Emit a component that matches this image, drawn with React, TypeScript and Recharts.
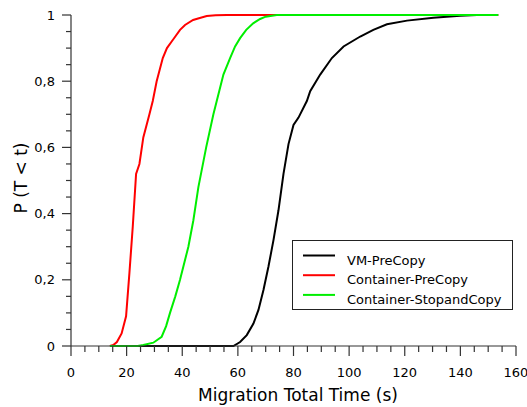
import React from "react";
import { LineChart, Line, XAxis, YAxis, Legend } from "recharts";

// tick values / labels
const xTicks = [0, 5, 10, 15, 20, 25, 30, 35, 40, 45, 50, 55, 60, 65, 70, 75, 80, 85, 90, 95, 100, 105, 110, 115, 120, 125, 130, 135, 140, 145, 150, 155, 160];
const xMajorTicks = [0, 20, 40, 60, 80, 100, 120, 140, 160];
const xTickLabels = ["0", "20", "40", "60", "80", "100", "120", "140", "160"];
const yTicks = [0, 0.05, 0.1, 0.15, 0.2, 0.25, 0.3, 0.35, 0.4, 0.45, 0.5, 0.55, 0.6, 0.65, 0.7, 0.75, 0.8, 0.85, 0.9, 0.95, 1];
const yMajorTicks = [0, 0.2, 0.4, 0.6, 0.8, 1];
const yTickLabels = ["0", "0,2", "0,4", "0,6", "0,8", "1"];

const seriesNames = ["VM-PreCopy", "Container-PreCopy", "Container-StopandCopy"];

// VM-PreCopy
const vmTimes = [14, 58.4, 60.8, 63.2, 65.6, 67.4, 69.2, 71, 72.8, 74.6, 76.4, 78.2, 80, 81.8, 84.8, 86, 89.6, 93.8, 98, 104, 108.7, 113.6, 120.8, 130.3, 139.9, 146, 153.6];
const vmProbs = [0, 0, 0.012, 0.033, 0.068, 0.109, 0.169, 0.24, 0.32, 0.41, 0.52, 0.61, 0.668, 0.69, 0.74, 0.77, 0.82, 0.87, 0.905, 0.935, 0.955, 0.972, 0.983, 0.992, 0.998, 1, 1];

// Container-PreCopy
const cpTimes = [14, 15.2, 16.5, 18.2, 19.8, 21, 22.2, 23.4, 24.6, 26, 28.2, 29.4, 30.8, 33, 34.5, 36.2, 37.5, 39.2, 41, 43.9, 46, 48.8, 52, 56, 153.6];
const cpProbs = [0, 0.003, 0.012, 0.038, 0.09, 0.22, 0.36, 0.52, 0.55, 0.63, 0.7, 0.74, 0.8, 0.87, 0.9, 0.92, 0.935, 0.955, 0.97, 0.985, 0.99, 0.997, 0.999, 1, 1];

// Container-StopandCopy
const csTimes = [14, 24, 26, 29.6, 32.6, 34.2, 35.6, 37.5, 39.2, 42.2, 44, 45.8, 48.6, 51.2, 52.4, 54.8, 57.2, 59, 60.8, 63, 65.5, 68, 70, 74, 153.6];
const csProbs = [0, 0, 0.003, 0.01, 0.028, 0.06, 0.1, 0.15, 0.2, 0.3, 0.38, 0.48, 0.6, 0.7, 0.74, 0.82, 0.87, 0.905, 0.93, 0.955, 0.975, 0.988, 0.995, 1, 1];

const toRows = (ts: number[], ps: number[]) => ts.map((t, i) => ({ t, p: ps[i] }));

const FONT = "'DejaVu Sans', sans-serif";
const AXIS = "#333";

function XTick(props: any) {
  const { x, y, payload } = props;
  const idx = xMajorTicks.indexOf(payload.value);
  const major = idx >= 0;
  return (
    <g>
      <line x1={x} x2={x} y1={y} y2={y + (major ? 10 : 6)} stroke={AXIS} strokeWidth={1.2} />
      {major && (
        <text x={x} y={y + 31} textAnchor="middle" fontSize={13} fontFamily={FONT} fill="#000">
          {xTickLabels[idx]}
        </text>
      )}
    </g>
  );
}

function YTick(props: any) {
  const { x, y, payload } = props;
  const idx = yMajorTicks.findIndex((v) => Math.abs(v - payload.value) < 1e-6);
  const major = idx >= 0;
  return (
    <g>
      <line x1={x} x2={x - (major ? 9 : 5)} y1={y} y2={y} stroke={AXIS} strokeWidth={1.2} />
      {major && (
        <text x={x - 16} y={y + 4.5} textAnchor="end" fontSize={13} fontFamily={FONT} fill="#000">
          {yTickLabels[idx]}
        </text>
      )}
    </g>
  );
}

function LegendBox(props: any) {
  const items = [...(props.payload || [])].sort(
    (a: any, b: any) => seriesNames.indexOf(a.value) - seriesNames.indexOf(b.value)
  );
  return (
    <svg width={221} height={71} style={{ display: "block" }}>
      <rect x={0.5} y={0.5} width={220} height={69} fill="#fff" stroke="#222" strokeWidth={1} />
      {items.map((it: any, i: number) => (
        <g key={i}>
          <line x1={11} x2={43} y1={15.5 + i * 19.7} y2={15.5 + i * 19.7} stroke={it.color} strokeWidth={2} />
          <text x={55} y={24.5 + i * 19.5} fontSize={13} fontFamily={FONT} fill="#000">
            {it.value}
          </text>
        </g>
      ))}
    </svg>
  );
}

export default function App() {
  return (
    <div style={{ position: "absolute", left: 0, top: 0, width: 527, height: 407 }}>
      <LineChart width={527} height={407} margin={{ top: 15, right: 11, bottom: 0, left: 0 }}>
        <XAxis
          type="number"
          dataKey="t"
          domain={[0, 160]}
          ticks={xTicks}
          interval={0}
          allowDataOverflow
          height={61}
          tickSize={0}
          tickMargin={0}
          tickLine={false}
          stroke={AXIS}
          strokeWidth={1.2}
          tick={<XTick />}
        />
        <YAxis
          type="number"
          domain={[0, 1]}
          ticks={yTicks}
          interval={0}
          width={71}
          tickSize={0}
          tickMargin={0}
          tickLine={false}
          stroke={AXIS}
          strokeWidth={1.2}
          tick={<YTick />}
        />
        <Legend
          layout="horizontal"
          verticalAlign="middle"
          align="center"
          wrapperStyle={{ position: "absolute", left: 292, top: 240, width: 221, height: 71 }}
          content={<LegendBox />}
        />
        <Line data={toRows(vmTimes, vmProbs)} dataKey="p" name="VM-PreCopy" type="linear" stroke="#000000" strokeWidth={2} dot={false} isAnimationActive={false} />
        <Line data={toRows(cpTimes, cpProbs)} dataKey="p" name="Container-PreCopy" type="linear" stroke="#ff0000" strokeWidth={2} dot={false} isAnimationActive={false} />
        <Line data={toRows(csTimes, csProbs)} dataKey="p" name="Container-StopandCopy" type="linear" stroke="#00ee00" strokeWidth={2} dot={false} isAnimationActive={false} />
        <text x={298} y={401} textAnchor="middle" fontSize={17} fontFamily={FONT} fill="#000">
          Migration Total Time (s)
        </text>
        <text x={27} y={178} textAnchor="middle" fontSize={17} fontFamily={FONT} fill="#000" transform="rotate(-90, 27, 178)">
          P (T &lt; t)
        </text>
      </LineChart>
    </div>
  );
}
